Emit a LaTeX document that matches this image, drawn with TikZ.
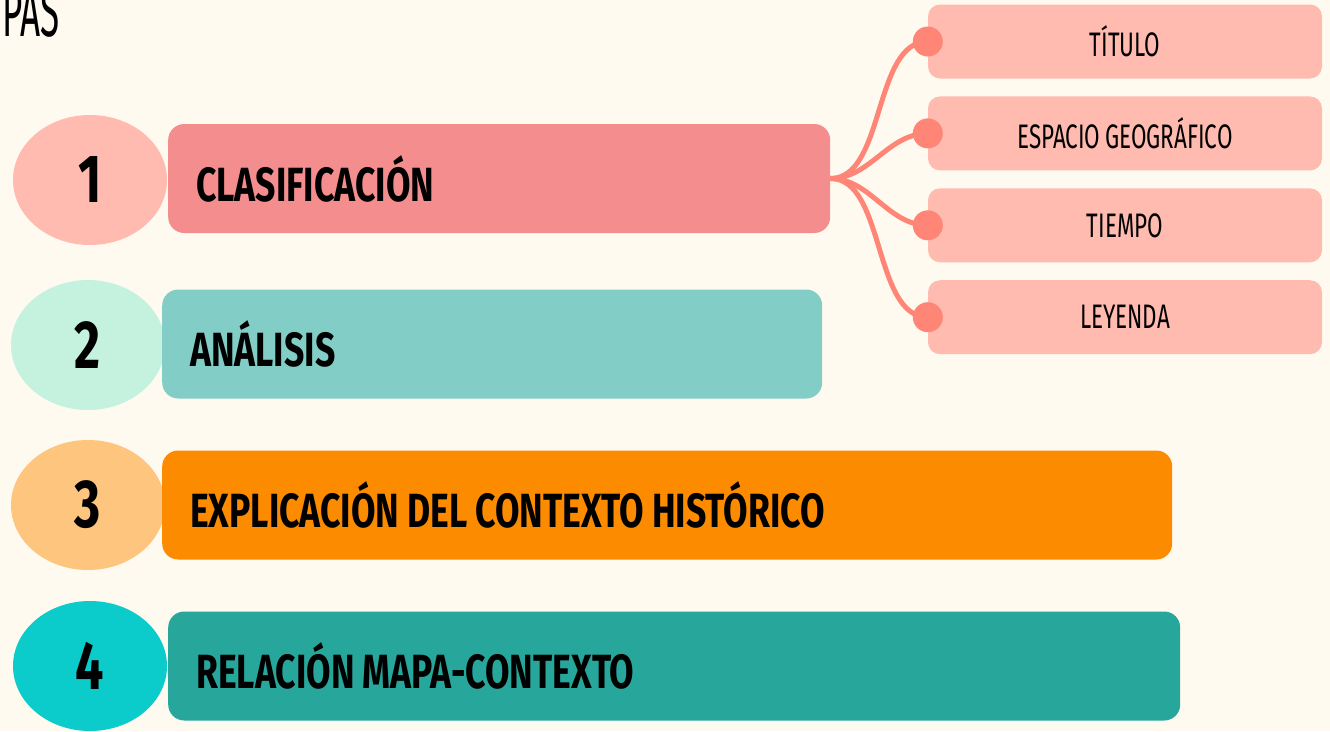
\documentclass[tikz,border=0pt]{standalone}
\usepackage{fontspec}
\setmainfont{Fira Sans}[FakeStretch=0.66, WordSpace=0.8]
\newfontfamily\pasofont{Fira Sans}[UprightFont=* Bold, FakeStretch=0.74]
\newfontfamily\tituloFont{Fira Sans}[FakeStretch=0.5]
\newcommand\pasoletra{\pasofont\fontsize{48}{48}\selectfont\fontdimen2\font=8pt}
\usetikzlibrary{positioning,shapes.geometric}

\definecolor{fondo}{RGB}{255,250,240}
\definecolor{num1}{RGB}{255,187,176}
\definecolor{num2}{RGB}{197,241,223}
\definecolor{num3}{RGB}{253,197,126}
\definecolor{num4}{RGB}{12,204,203}
\definecolor{paso1}{RGB}{244,142,142}
\definecolor{paso2}{RGB}{130,205,198}
\definecolor{paso3}{RGB}{253,139,0}
\definecolor{paso4}{RGB}{39,167,155}
\definecolor{partecol}{RGB}{255,187,176}
\definecolor{ramacol}{RGB}{255,133,119}

\begin{document}
\begin{tikzpicture}[x=1pt,y=-1pt,
			every node/.style={inner sep=0pt},
			numero/.style={ellipse, minimum width=154pt, minimum height=130pt,
				font=\pasofont\fontsize{68}{68}\selectfont},
			paso/.style={rounded corners=16pt, minimum height=109pt, anchor=west,
				inner xsep=28pt, align=flush left, font=\pasoletra},
			parte/.style={fill=partecol, rounded corners=12pt, minimum width=394pt,
				minimum height=74pt, font=\fontsize{34}{34}\selectfont},
			punto/.style={circle, fill=ramacol, minimum size=30pt},
			rama/.style={draw=ramacol, line width=5pt},
			node distance=17.5pt]
		\fill[fondo] (0,0) rectangle (1330,731);
		\useasboundingbox (0,0) rectangle (1330,731);

		\node[anchor=base east, font=\tituloFont\fontsize{70}{70}\selectfont] (titulo) at (60,36) {PAS};

		% numeros
		\node[numero, fill=num1] (n1) at (90,180) {1};
		\node[numero, fill=num2] (n2) at (88,345) {2};
		\node[numero, fill=num3] (n3) at (88,505) {3};
		\node[numero, fill=num4] (n4) at (90,666) {4};

		% pasos
		\node[paso, fill=paso1, text width=606pt] (c1) at (168,178.5) {CLASIFICACIÓN};
		\node[paso, fill=paso2, text width=604pt] (c2) at (162,344) {ANÁLISIS};
		\node[paso, fill=paso3, text width=954pt] (c3) at (162,505) {EXPLICACIÓN DEL CONTEXTO HISTÓRICO};
		\node[paso, fill=paso4, text width=956pt] (c4) at (168,666) {RELACIÓN MAPA-CONTEXTO};

		% partes de la clasificacion
		\node[parte]              (p1) at (1125,41.5) {TÍTULO};
		\node[parte, below =of p1] (p2) {ESPACIO GEOGRÁFICO};
		\node[parte, below =of p2] (p3) {TIEMPO};
		\node[parte, below =of p3] (p4) {LEYENDA};

		\foreach \to/\d in {p1/55, p2/40, p3/40, p4/55}
			\draw[rama] (c1.east) .. controls +(\d,0) and +(-\d,0) .. (\to.west);
		\foreach \p in {p1, p2, p3, p4}
			\node[punto] (d\p) at (\p.west) {};
	\end{tikzpicture}
\end{document}
